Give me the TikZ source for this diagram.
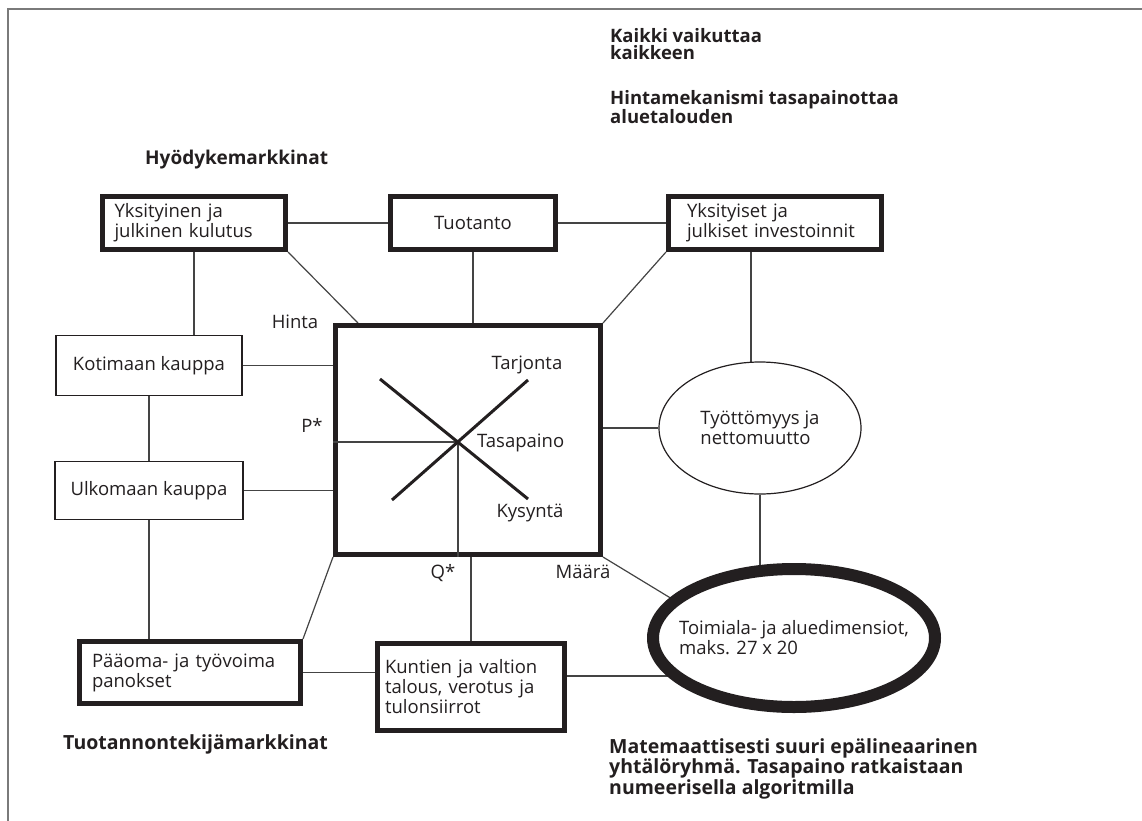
\documentclass[tikz,border=0pt]{standalone}
\usepackage{fontspec}
\setmainfont{Open Sans}
\usetikzlibrary{shapes.geometric,backgrounds,calc}
\definecolor{ink}{HTML}{231F20}
\definecolor{linec}{HTML}{444444}
\definecolor{framec}{HTML}{7A7A7A}
\begin{document}
\begin{tikzpicture}[x=1pt,y=-1pt,
  txt/.style={font=\fontsize{18.5}{20}\selectfont, text=ink},
  tbox/.style={draw=ink, line width=5pt, fill=white, rectangle, inner sep=0pt, txt},
  nbox/.style={draw=ink, line width=1.3pt, fill=white, rectangle, inner sep=0pt, txt},
  conn/.style={draw=linec, line width=1.2pt},
  xline/.style={draw=ink, line width=3pt},
  title/.style={font=\bfseries\fontsize{19.5}{19}\selectfont, text=ink, anchor=north west, inner sep=0pt, align=left},
  lbl/.style={txt, inner sep=0pt}
]
\useasboundingbox (0,0) rectangle (1142,821);
\draw[draw=framec, line width=1.5pt] (8,821) -- (8,9) -- (1142,9);

% titles
\node[title, font=\bfseries\fontsize{18.5}{17}\selectfont] (t1) at (610,28) {Kaikki vaikuttaa\\kaikkeen};
\node[title, font=\bfseries\fontsize{18.5}{17}\selectfont] (t2) at (610,90) {Hintamekanismi tasapainottaa\\aluetalouden};
\node[title, font=\bfseries\fontsize{19}{19}\selectfont] (t3) at (145,150) {Hyödykemarkkinat};
\node[title] (t4) at (63,734) {Tuotannontekijämarkkinat};
\node[title] (t5) at (609,738) {Matemaattisesti suuri epälineaarinen\\yhtälöryhmä. Tasapaino ratkaistaan\\numeerisella algoritmilla};

% boxes
\node[tbox, minimum width=183, minimum height=53, text width=159, align=left] (kul) at (194,223) {Yksityinen ja\\julkinen kulutus};
\node[tbox, minimum width=165, minimum height=53] (tuo) at (473,223) {Tuotanto};
\node[tbox, minimum width=213, minimum height=53, text width=176, align=left] (inv) at (775,223) {Yksityiset ja\\julkiset investoinnit};
\node[nbox, minimum width=186, minimum height=60] (koti) at (149,365.5) {Kotimaan kauppa};
\node[nbox, minimum width=188, minimum height=58] (ulko) at (149,490.5) {Ulkomaan kauppa};
\node[tbox, minimum width=265, minimum height=229] (sq) at (468,440) {};
\node[tbox, minimum width=221, minimum height=62, text width=196, align=left] (paa) at (190,672.5) {Pääoma- ja työvoima\\panokset};
\node[tbox, minimum width=187, minimum height=87, text width=172, align=left] (kun) at (471,687) {Kuntien ja valtion\\talous, verotus ja\\tulonsiirrot};
\node[ellipse, draw=ink, line width=1.2pt, fill=white, inner sep=0pt, minimum width=202, minimum height=132, txt, align=left] (tyo) at (760,428) {Työttömyys ja\\nettomuutto};
\node[ellipse, draw=ink, line width=12pt, fill=white, inner sep=0pt, minimum width=282, minimum height=138,
  label={[lbl, align=left]center:{Toimiala- ja aluedimensiot,\\maks. 27 x 20}}] (big) at (794,638) {};

% inside the price square
\coordinate (E) at (458,442);
\coordinate (d1) at (380,379);
\coordinate (d2) at (528,499);
\coordinate (s1) at (392,500);
\coordinate (s2) at (528,380);
\draw[conn] (E -| sq.west) -- (E) -- (E |- sq.south);
\draw[xline] (d1) -- (d2);
\draw[xline] (s1) -- (s2);
\node[lbl] (tarj) at (527,365) {Tarjonta};
\node[lbl, anchor=west] (tasa) at (477,443) {Tasapaino};
\node[lbl] (kys) at (530,513) {Kysyntä};
\node[lbl] (hinta) at (295,322) {Hinta};
\node[lbl] (pst) at (312,425) {P*};
\node[lbl] (qst) at (443,573) {Q*};
\node[lbl] (maara) at (583,572) {Määrä};

% connectors
\coordinate (sqa) at ($(sq.north west)+(25,0)$);
\coordinate (k1) at ($(kun.east)+(0,-11)$);
\coordinate (tv) at ($(tyo.north)+(-9,0)$);
\begin{pgfonlayer}{background}
\draw[conn] (kul) -- (tuo);
\draw[conn] (tuo) -- (inv);
\draw[conn] (kul.south) -- (kul.south |- koti.north);
\draw[conn] (kul.south east) -- (sqa);
\draw[conn] (tuo.south) -- (tuo.south |- sq.north);
\draw[conn] (inv.south west) -- (sq.north east);
\draw[conn] (tv |- inv.south) -- (tv |- tyo.center);
\draw[conn] (koti.east) -- (koti.east -| sq.west);
\draw[conn] (koti.south) -- (ulko.north);
\draw[conn] (ulko.east) -- (ulko.east -| sq.west);
\draw[conn] (ulko.south) -- (ulko.south |- paa.north);
\draw[conn] (sq.south west) -- (paa.north east);
\draw[conn] (kun.north) -- (kun.north |- sq.south);
\draw[conn] (sq.south east) -- (big.162);
\draw[conn] (tyo.west -| sq.east) -- (tyo.west);
\draw[conn] (tyo.south) -- (tyo.south |- big.center);
\draw[conn] (paa.east) -- (paa.east -| kun.west);
\draw[conn] (k1) -- (k1 -| big.center);
\end{pgfonlayer}
\end{tikzpicture}
\end{document}
